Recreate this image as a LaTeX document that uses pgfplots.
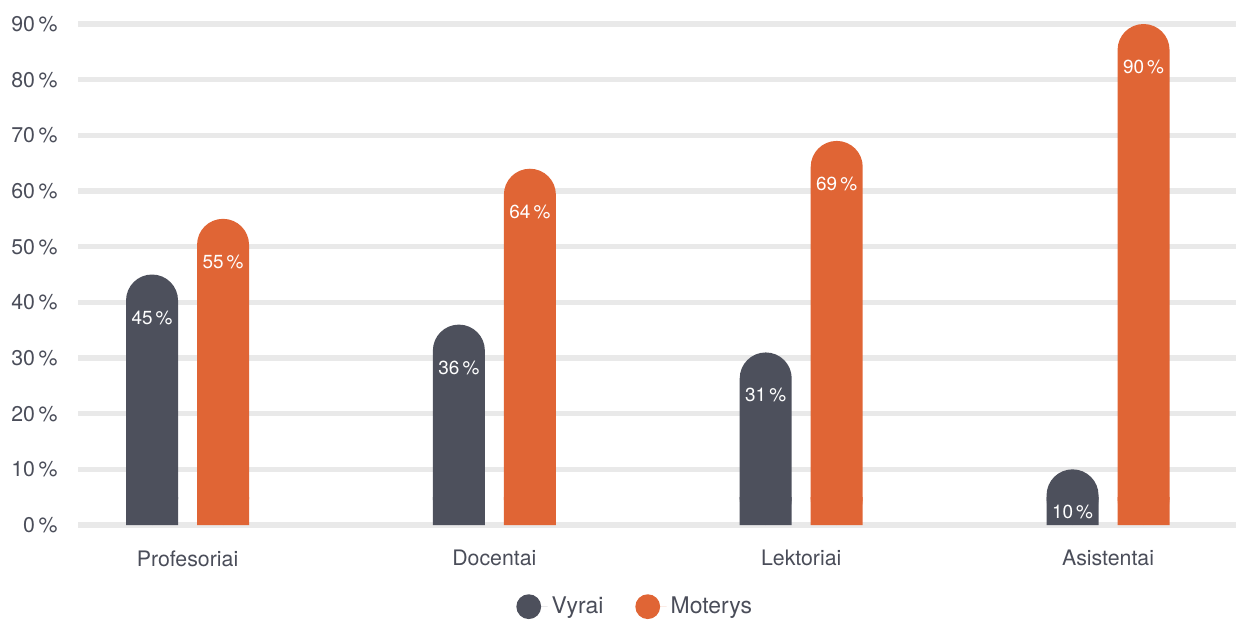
\documentclass[border=0pt]{standalone}
\usepackage{fontspec}
\setmainfont{TeX Gyre Heros}
\usepackage{pgfplots}
\pgfplotsset{compat=1.18}
\usepackage{pgfplotstable}
\definecolor{vyr}{HTML}{4D505C}
\definecolor{mot}{HTML}{E06535}
\definecolor{gridc}{HTML}{E9E9E9}
\definecolor{txt}{HTML}{4A4D59}

\pgfplotstableread{
x v
0 45
1 36
2 31
3 10
}\vyrai
\pgfplotstableread{
x v
0 55
1 64
2 69
3 90
}\moterys

\begin{document}
\begin{tikzpicture}
\begin{axis}[name=ax, scale only axis, width=579bp, height=250.5bp,
  xmin=-0.357, xmax=3.417, ymin=0, ymax=90,
  axis line style={draw=none},
  ytick={0,10,...,90}, ymajorgrids,
  major grid style={gridc, line width=2.6bp},
  xtick={0,1,2,3}, xticklabels={Profesoriai,Docentai,Lektoriai,Asistentai},
  major tick length=0pt, tick style={draw=none},
  yticklabel={\pgfmathprintnumber{\tick}\,\%},
  /pgf/number format/assume math mode=true,
  ticklabel style={font=\fontsize{10.7}{12}\selectfont, text=txt, inner sep=0pt},
  yticklabel style={anchor=east, xshift=-10bp},
  xticklabel style={anchor=north, yshift=-12.5bp},
  legend style={at={(0.482,-0.163)}, anchor=center, legend columns=2, draw=none, fill=none,
    font=\fontsize{11.5}{13}\selectfont, text=txt,
    /tikz/every even column/.append style={column sep=14bp}},
  every node near coord/.append style={anchor=center, yshift=-21.5bp, text=white,
    font=\fontsize{9.5}{10}\selectfont, inner sep=0pt},
]
% square bottoms (drawn first, covered by rounded bars)
\addplot[ybar, bar width=26bp, bar shift=-17.75bp, fill=vyr, draw=none, forget plot]
  table[x=x, y expr=5]{\vyrai};
\addplot[ybar, bar width=26bp, bar shift=17.75bp, fill=mot, draw=none, forget plot]
  table[x=x, y expr=5]{\moterys};
% rounded bars
\addplot[ybar, bar width=26bp, bar shift=-17.75bp, fill=vyr, draw=none, rounded corners=13bp,
  nodes near coords={\pgfmathprintnumber{\pgfplotspointmeta}\,\%},
  every node near coord/.append style={xshift=-17.75bp},
  legend image code/.code={\fill[vyr] (0bp,0bp) circle (6.2bp); \path (0bp,0bp) -- (9.5bp,0bp);}]
  table[x=x, y=v]{\vyrai};
\addlegendentry{Vyrai}
\addplot[ybar, bar width=26bp, bar shift=17.75bp, fill=mot, draw=none, rounded corners=13bp,
  nodes near coords={\pgfmathprintnumber{\pgfplotspointmeta}\,\%},
  every node near coord/.append style={xshift=17.75bp},
  legend image code/.code={\fill[mot] (0bp,0bp) circle (6.2bp); \path (0bp,0bp) -- (9.5bp,0bp);}]
  table[x=x, y=v]{\moterys};
\addlegendentry{Moterys}
\end{axis}
\pgfresetboundingbox
\path[use as bounding box] ([xshift=-39bp, yshift=-48bp]ax.south west) rectangle ([yshift=12bp]ax.north east);
\end{tikzpicture}
\end{document}
